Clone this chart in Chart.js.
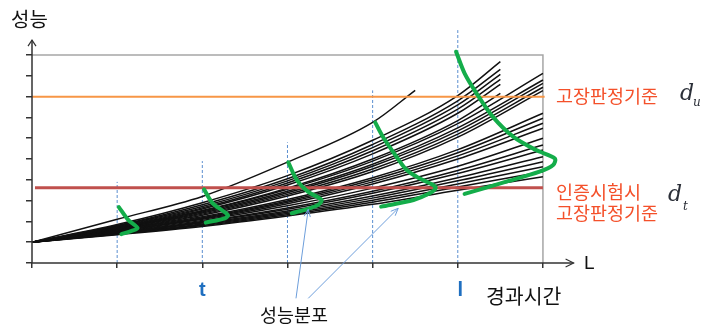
<!DOCTYPE html>
<html>
<head>
<meta charset="utf-8">
<script src="https://cdn.jsdelivr.net/npm/chart.js@4/dist/chart.umd.min.js"></script>
<style>
  html, body { margin: 0; padding: 0; background: #fff; }
  canvas { display: block; }
</style>
</head>
<body>
<canvas id="chart" width="701" height="330"></canvas>
<script>
// Elapsed-time points at which each degradation path is sampled
const timeFirst = [0, 1, 2, 3, 4, 4.5];
const timeShort = [0, 1, 2, 3, 4, 5, 5.5];
const timeFull  = [0, 1, 2, 3, 4, 5, 6];

// Performance degradation paths (all start from the same initial level)
const firstPath = [1, 2.1, 3.2, 4.85, 6.76, 8.3];

const fastPaths = [
  [1, 1.85, 2.9, 4.2, 5.9, 8.05, 9.68],
  [1, 1.8, 2.8, 4.05, 5.7, 7.8, 9.31],
  [1, 1.78, 2.72, 3.95, 5.55, 7.6, 9.07],
  [1, 1.75, 2.65, 3.85, 5.4, 7.4, 8.83],
  [1, 1.72, 2.6, 3.75, 5.25, 7.2, 8.59],
  [1, 1.7, 2.52, 3.6, 5.0, 6.85, 8.16]
];

const upperPaths = [
  [1, 1.68, 2.5, 3.55, 4.9, 6.7, 9.12],
  [1, 1.66, 2.45, 3.45, 4.75, 6.5, 8.8],
  [1, 1.64, 2.4, 3.38, 4.65, 6.35, 8.64],
  [1, 1.62, 2.35, 3.3, 4.52, 6.2, 8.45],
  [1, 1.6, 2.3, 3.22, 4.4, 6.05, 8.29]
];

const middlePaths = [
  [1, 1.58, 2.22, 3.05, 4.1, 5.45, 7.2],
  [1, 1.56, 2.18, 2.98, 4.0, 5.3, 6.96],
  [1, 1.54, 2.14, 2.92, 3.9, 5.15, 6.72],
  [1, 1.52, 2.1, 2.85, 3.8, 5.0, 6.48]
];

const lowerPaths = [
  [1, 1.5, 2.05, 2.75, 3.6, 4.65, 6.0],
  [1, 1.48, 2.0, 2.65, 3.45, 4.45, 5.67],
  [1, 1.46, 1.96, 2.58, 3.35, 4.3, 5.43],
  [1, 1.44, 1.92, 2.5, 3.22, 4.1, 5.11],
  [1, 1.42, 1.88, 2.44, 3.12, 3.95, 4.87],
  [1, 1.4, 1.84, 2.38, 3.02, 3.8, 4.63],
  [1, 1.38, 1.8, 2.32, 2.92, 3.65, 4.39],
  [1, 1.36, 1.76, 2.26, 2.82, 3.5, 4.15]
];

// Failure criteria
const failLevel = 8;        // 고장판정기준 d_u
const testFailLevel = 3.62; // 인증시험시 고장판정기준 d_t

// Inspection times (dashed guides) and how high each guide reaches
const inspectTimes = [1, 2, 3, 4, 5];
const inspectTops  = [3.9, 4.9, 5.8, 8.3, 11.2];

// Performance distributions at each inspection time: [time, performance]
const dist1 = [[1.02, 2.69], [1.13, 2.07], [1.24, 1.68], [1.17, 1.54], [1.05, 1.39]];
const dist2 = [[2.02, 3.54], [2.12, 2.88], [2.3, 2.31], [2.27, 2.16], [2.04, 1.94]];
const dist3 = [[3.01, 4.84], [3.11, 3.99], [3.24, 3.43], [3.4, 3.03], [3.36, 2.79], [3.26, 2.63], [3.05, 2.39]];
const dist4 = [[4.03, 6.76], [4.12, 6.07], [4.28, 5.11], [4.4, 4.47], [4.55, 4.07], [4.71, 3.75], [4.74, 3.59], [4.67, 3.35], [4.48, 3.03], [4.1, 2.71]];
const dist5 = [[4.98, 10.16], [5.08, 9.12], [5.22, 8.16], [5.41, 7.04], [5.65, 6.08], [5.92, 5.43], [6.14, 5.03], [6.12, 4.71], [5.96, 4.39], [5.57, 3.91], [5.08, 3.32]];

// Axis ticks
const xTicks = [0, 1, 2, 3, 4, 5, 6];
const yTicks = [0, 1, 2, 3, 4, 5, 6, 7, 8, 9, 10];
const xEnd = 6;   // right edge of the framed region
const yEnd = 10;  // top edge of the framed region

const toPoints = (xs, ys) => xs.map((x, i) => ({ x: x, y: ys[i] }));
const pairPoints = arr => arr.map(p => ({ x: p[0], y: p[1] }));

const datasets = [];

// distributions on top
[dist1, dist2, dist3, dist4, dist5].forEach(d => {
  datasets.push({
    data: pairPoints(d), borderColor: '#14ad4a', borderWidth: 4,
    tension: 0.3, pointRadius: 0, borderCapStyle: 'round', borderJoinStyle: 'round', order: 0
  });
});

// failure criteria lines
datasets.push({
  data: [{ x: 0, y: failLevel }, { x: xEnd + 0.02, y: failLevel }],
  borderColor: '#f79646', borderWidth: 2, pointRadius: 0, order: 1
});
datasets.push({
  data: [{ x: 0.035, y: testFailLevel }, { x: xEnd, y: testFailLevel }],
  borderColor: '#c0504d', borderWidth: 3, pointRadius: 0, order: 1
});

// degradation paths
const pathStyle = { borderColor: '#111', borderWidth: 1.5, pointRadius: 0, cubicInterpolationMode: 'monotone', order: 2 };
datasets.push(Object.assign({ data: toPoints(timeFirst, firstPath) }, pathStyle));
fastPaths.forEach(p => datasets.push(Object.assign({ data: toPoints(timeShort, p) }, pathStyle)));
[upperPaths, middlePaths, lowerPaths].forEach(group =>
  group.forEach(p => datasets.push(Object.assign({ data: toPoints(timeFull, p) }, pathStyle))));

// inspection guides
inspectTimes.forEach((t, i) => {
  datasets.push({
    data: [{ x: t, y: 0 }, { x: t, y: inspectTops[i] }],
    borderColor: '#5b8fd0', borderWidth: 1, borderDash: [3, 2], pointRadius: 0, order: 3
  });
});

// frame of the observed region
datasets.push({
  data: [{ x: 0, y: yEnd }, { x: xEnd, y: yEnd }, { x: xEnd, y: 0 }],
  borderColor: '#a6a6a6', borderWidth: 1.5, pointRadius: 0, order: 4
});

const KR = '"Noto Sans CJK KR", "Noto Sans", sans-serif';

// axes with arrowheads, annotations and labels
const decorations = {
  id: 'decorations',
  afterDatasetsDraw(chart) {
    const ctx = chart.ctx;
    const xs = chart.scales.x, ys = chart.scales.y;
    const px = v => xs.getPixelForValue(v);
    const py = v => ys.getPixelForValue(v);
    ctx.save();

    // axes
    const x0 = px(0), y0 = py(0);
    const yTip = py(10.72), xTip = px(6.36);
    ctx.strokeStyle = '#333';
    ctx.lineWidth = 1.5;
    ctx.beginPath();
    ctx.moveTo(x0, y0); ctx.lineTo(x0, yTip);
    ctx.moveTo(x0, y0); ctx.lineTo(xTip, y0);
    ctx.stroke();
    ctx.lineWidth = 1.2;
    ctx.beginPath();
    ctx.moveTo(x0 - 4, yTip + 6); ctx.lineTo(x0, yTip); ctx.lineTo(x0 + 4, yTip + 6);
    ctx.moveTo(xTip - 8, y0 - 4); ctx.lineTo(xTip, y0); ctx.lineTo(xTip - 8, y0 + 4);
    ctx.stroke();

    // pointers from the distribution label
    const arrow = (fx, fy, tx, ty) => {
      const ax = px(fx), ay = py(fy), bx = px(tx), by = py(ty);
      const ang = Math.atan2(by - ay, bx - ax);
      ctx.beginPath();
      ctx.moveTo(ax, ay); ctx.lineTo(bx, by);
      ctx.moveTo(bx - 8 * Math.cos(ang - 0.4), by - 8 * Math.sin(ang - 0.4));
      ctx.lineTo(bx, by);
      ctx.lineTo(bx - 8 * Math.cos(ang + 0.4), by - 8 * Math.sin(ang + 0.4));
      ctx.stroke();
    };
    ctx.strokeStyle = '#6d9edb';
    ctx.lineWidth = 1;
    arrow(3.1, -1.7, 3.244, 2.58);
    arrow(3.244, -1.7, 4.3, 2.63);

    // texts
    ctx.textBaseline = 'middle';
    ctx.fillStyle = '#111';
    ctx.font = '20px ' + KR;
    ctx.textAlign = 'left';
    ctx.fillText('성능', 11, 19);
    ctx.font = '20.5px ' + KR;
    ctx.fillText('경과시간', 486, 296);
    ctx.font = '19px "Liberation Sans", sans-serif';
    ctx.fillText('L', 584, 264);
    ctx.font = '18.5px ' + KR;
    ctx.textAlign = 'center';
    ctx.fillText('성능분포', 294, 315);

    ctx.fillStyle = '#1f6fc0';
    ctx.font = 'bold 20px "Liberation Sans", sans-serif';
    ctx.fillText('t', px(2), 290);
    ctx.fillText('l', px(5.03), 290);

    ctx.fillStyle = '#f4502a';
    ctx.font = '18.5px ' + KR;
    ctx.textAlign = 'left';
    ctx.fillText('고장판정기준', 556, py(failLevel) - 1);
    ctx.fillText('인증시험시', 556, py(testFailLevel) + 4);
    ctx.fillText('고장판정기준', 556, py(testFailLevel) + 25);

    ctx.fillStyle = '#2b2f38';
    ctx.font = 'italic 22px "DejaVu Serif", serif';
    ctx.fillText('d', 680, py(failLevel) - 2);
    ctx.fillText('d', 668, py(testFailLevel) + 8);
    ctx.font = 'italic 12px "DejaVu Serif", serif';
    ctx.fillText('u', 693, py(failLevel) + 6);
    ctx.fillText('t', 683, py(testFailLevel) + 19);

    ctx.restore();
  }
};

new Chart(document.getElementById('chart'), {
  type: 'line',
  data: { datasets: datasets },
  options: {
    responsive: false,
    animation: false,
    events: [],
    layout: { padding: { left: 0, right: 124, top: 28, bottom: 0 } },
    plugins: { legend: { display: false }, tooltip: { enabled: false } },
    scales: {
      x: {
        type: 'linear', min: 0, max: 6.4,
        afterBuildTicks: s => { s.ticks = xTicks.map(v => ({ value: v })); },
        afterFit: s => { s.height = 67; },
        ticks: { display: false },
        border: { display: false },
        grid: { drawOnChartArea: false, drawTicks: true, tickLength: 5, color: '#333', lineWidth: 1.5 }
      },
      y: {
        type: 'linear', min: 0, max: 11.3,
        afterBuildTicks: s => { s.ticks = yTicks.map(v => ({ value: v })); },
        afterFit: s => { s.width = 32; },
        ticks: { display: false },
        border: { display: false },
        grid: { drawOnChartArea: false, drawTicks: true, tickLength: 6, color: '#333', lineWidth: 1.5 }
      }
    }
  },
  plugins: [decorations]
});
</script>
</body>
</html>
